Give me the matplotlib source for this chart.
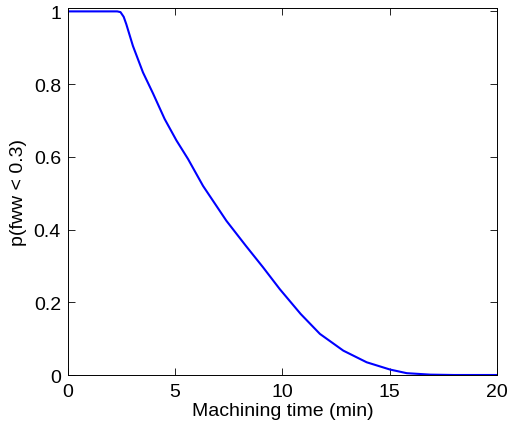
import matplotlib
matplotlib.use("Agg")
import matplotlib.pyplot as plt

# values
time_min = [0.0, 1.0, 2.0, 2.3, 2.45, 2.6, 2.72, 3.03, 3.5, 3.97, 4.51, 5.06,
            5.6, 6.3, 7.39, 8.3, 9.1, 9.88, 10.85, 11.75, 12.84, 13.93,
            15.02, 15.8, 16.9, 18.0, 20.0]
prob = [1.0, 1.0, 1.0, 1.0, 0.998, 0.985, 0.965, 0.905, 0.832, 0.774, 0.704, 0.645,
        0.594, 0.52, 0.424, 0.355, 0.296, 0.236, 0.168, 0.113, 0.067, 0.035,
        0.015, 0.005, 0.001, 0.0, 0.0]
xticks = [0, 5, 10, 15, 20]
yticks = [0, 0.2, 0.4, 0.6, 0.8, 1]

plt.rcParams["font.family"] = ["Liberation Sans", "DejaVu Sans"]
plt.rcParams["font.size"] = 14

fig = plt.figure(figsize=(5.07, 4.31), dpi=100)
ax = fig.add_axes([0.134, 0.1276, 0.846, 0.8504])
ax.plot(time_min, prob, color="#0000ff", linewidth=1.5)
ax.set_xlim(0, 20)
ax.set_ylim(0, 1.008)
ax.set_xticks(xticks)
ax.set_yticks(yticks)
ax.set_yticklabels(["0", "0.2", "0.4", "0.6", "0.8", "1"])
ax.tick_params(direction="in", top=True, right=True, length=5, width=0.6)
ax.tick_params(axis="x", pad=6)
ax.tick_params(axis="y", pad=5)
for s in ax.spines.values():
    s.set_linewidth(0.7)
ax.set_xlabel("Machining time (min)", labelpad=1)
ax.set_ylabel("p(fww < 0.3)", labelpad=5)
fig.savefig("out.png", dpi=100)
